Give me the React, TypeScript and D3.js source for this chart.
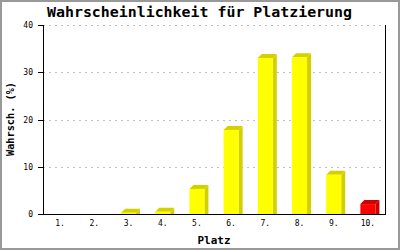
import React from "react";
import * as d3 from "d3";

const categories = ["1.", "2.", "3.", "4.", "5.", "6.", "7.", "8.", "9.", "10."];
const values = [0, 0, 0.25, 0.5, 5.3, 17.8, 33.0, 33.2, 8.3, 2.1];
const yTicks = [0, 10, 20, 30, 40];
const highlight = ["10."];

const W = 400, H = 250;
const left = 43, right = 385, top = 25, bottom = 214;
const DX = 4, DY = 4;
const mono = "'DejaVu Sans Mono', 'Liberation Mono', monospace";

export default function App() {
  const x = d3.scaleBand<string>().domain(categories).range([left, right]).paddingInner(0.56).paddingOuter(0.28);
  const y = d3.scaleLinear().domain([0, 40]).range([bottom, top]);
  const bw = x.bandwidth();
  return (
    <svg width={W} height={H} style={{ position: "absolute", left: 0, top: 0, display: "block" }}>
      <rect x={0} y={0} width={W} height={H} fill="#fff" />
      <rect x={1} y={1} width={W - 2} height={H - 2} fill="none" stroke="#999" strokeWidth={2} />
      <text x={199.5} y={17} textAnchor="middle" fontFamily={mono} fontWeight="bold" fontSize={14} textLength={305} lengthAdjust="spacingAndGlyphs">Wahrscheinlichkeit für Platzierung</text>
      {yTicks.filter(t => t > 0).map(t => (
        <line key={"g" + t} x1={left} x2={right} y1={Math.round(y(t)) + 0.5} y2={Math.round(y(t)) + 0.5} stroke="#c0c0c0" strokeDasharray="2,4" />
      ))}
      {categories.map((c, i) => {
        const v = values[i];
        const x0 = x(c)!;
        const x1 = x0 + bw;
        const yt = y(v);
        const red = highlight.includes(c);
        const front = red ? "#ff0000" : "#ffff00";
        const dark = red ? "#cc0000" : "#d4d000";
        if (v <= 0) return null;
        return (
          <g key={c}>
            <polygon points={`${x1},${yt} ${x1 + DX},${yt - DY} ${x1 + DX},${bottom} ${x1},${bottom}`} fill={dark} />
            <polygon points={`${x0},${yt} ${x0 + DX},${yt - DY} ${x1 + DX},${yt - DY} ${x1},${yt}`} fill={dark} />
            <rect x={x0} y={yt} width={bw} height={bottom - yt} fill={front} />
          </g>
        );
      })}
      <line x1={left} x2={right + 0.5} y1={bottom + 0.5} y2={bottom + 0.5} stroke="#000" />
      <line x1={left + 0.5} x2={left + 0.5} y1={top} y2={bottom + 1} stroke="#000" />
      <line x1={right + 0.5} x2={right + 0.5} y1={top} y2={bottom + 1} stroke="#000" />
      {yTicks.map(t => (
        <g key={"t" + t}>
          <line x1={38} x2={left} y1={Math.round(y(t)) + 0.5} y2={Math.round(y(t)) + 0.5} stroke="#000" />
          <text x={33} y={Math.round(y(t)) + 3} textAnchor="end" fontFamily={mono} fontSize={8}>{t}</text>
        </g>
      ))}
      {categories.map(c => (
        <text key={"l" + c} x={x(c)! + bw / 2} y={226} textAnchor="middle" fontFamily={mono} fontSize={8}>{c}</text>
      ))}
      <text x={(left + right) / 2} y={244} textAnchor="middle" fontFamily={mono} fontWeight="bold" fontSize={11} textLength={33} lengthAdjust="spacingAndGlyphs">Platz</text>
      <text transform="translate(14,119) rotate(-90)" textAnchor="middle" fontFamily={mono} fontWeight="bold" fontSize={10} textLength={74} lengthAdjust="spacingAndGlyphs">Wahrsch. (%)</text>
    </svg>
  );
}
